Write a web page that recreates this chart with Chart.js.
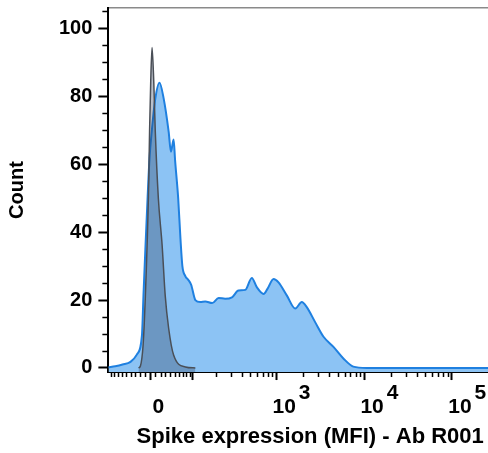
<!DOCTYPE html>
<html>
<head>
<meta charset="utf-8">
<script src="https://cdn.jsdelivr.net/npm/chart.js@4"></script>
<style>
  html, body { margin: 0; padding: 0; background: #fff; overflow: hidden; }
  #wrap { width: 514px; height: 453px; }
</style>
</head>
<body>
<div id="wrap"><canvas id="myChart"></canvas></div>
<script>
// x positions are in biexponential display units: asinh(MFI / 73.8)
const blueX = [-1.10, -0.92, -0.73, -0.52, -0.35, -0.22, -0.18, -0.13, -0.07, -0.02,
  0.04, 0.13, 0.24, 0.35, 0.48, 0.54, 0.61, 0.65, 0.73, 0.79, 0.84, 0.92, 0.99, 1.07,
  1.18, 1.31, 1.44, 1.62, 1.79, 1.96, 2.14, 2.31, 2.49, 2.66, 2.79, 2.97, 3.07, 3.23,
  3.36, 3.58, 3.80, 3.97, 4.10, 4.32, 4.54, 4.80, 5.06, 5.32, 5.67, 9.50];
const blueCount = [0.2, 0.5, 1.0, 1.8, 4.0, 9.6, 21.3, 35, 50.6, 62,
  70, 79.3, 84, 79.3, 69.6, 63.7, 67.3, 61, 50, 38, 30, 27, 26, 24.5,
  20, 19.4, 19.6, 19.1, 20.6, 20.4, 20.8, 22.8, 23.0, 26.5, 23.8, 21.8, 23.3, 26.2,
  25.2, 21.3, 17.5, 19.4, 17.9, 13.5, 9.2, 6.2, 2.8, 0.4, 0, 0];

const grayX = [-0.31, -0.26, -0.19, -0.13, -0.05, -0.02, 0.01, 0.045, 0.09, 0.13,
  0.21, 0.31, 0.39, 0.48, 0.61, 0.92, 1.18];
const grayCount = [0, 0.6, 6.7, 21.3, 50.6, 69.6, 84.2, 94.4, 84.2, 69.6,
  50, 36, 21.3, 11.7, 3.8, 0.3, 0];

const yMajor = [0, 20, 40, 60, 80, 100];
const yMinor = [5, 10, 15, 25, 30, 35, 45, 50, 55, 65, 70, 75, 85, 90, 95, 105];

const xMajorMfi = [0, 100, 1000, 10000, 100000];
const xTickBase = ["0", "", "10", "10", "10"];
const xTickExp = ["", "", "3", "4", "5"];
const xMinorMfi = [-90, -80, -70, -60, -50, -40, -30, -20, -10,
  10, 20, 30, 40, 50, 60, 70, 80, 90,
  200, 300, 400, 500, 600, 700, 800, 900,
  2000, 3000, 4000, 5000, 6000, 7000, 8000, 9000,
  20000, 30000, 40000, 50000, 60000, 70000, 80000, 90000];

const toAxis = (v) => Math.asinh(v / 73.8);
const pts = (xs, ys) => xs.map((x, i) => ({ x, y: ys[i] }));

const FONT = "'Liberation Sans', Arial, sans-serif";

const noEdgePad = (axis) => {
  axis.paddingTop = 0;
  axis.paddingBottom = 0;
  axis.paddingLeft = 0;
  axis.paddingRight = 0;
};

const minorTicks = {
  id: "minorTicks",
  afterDraw(chart) {
    const { ctx, chartArea } = chart;
    const xs = chart.scales.x;
    const ys = chart.scales.y;
    ctx.save();
    ctx.strokeStyle = "#000";
    ctx.lineWidth = 1.5;
    ctx.beginPath();
    yMinor.forEach((v) => {
      const py = Math.round(ys.getPixelForValue(v)) + 0.5;
      if (py < chartArea.top) return;
      ctx.moveTo(chartArea.left - 6, py);
      ctx.lineTo(chartArea.left, py);
    });
    xMinorMfi.forEach((v) => {
      const px = Math.round(xs.getPixelForValue(toAxis(v))) + 0.5;
      ctx.moveTo(px, chartArea.bottom);
      ctx.lineTo(px, chartArea.bottom + 5);
    });
    ctx.stroke();
    ctx.restore();
  },
};

const ctx = document.getElementById("myChart").getContext("2d");

const aChart = new Chart(ctx, {
  type: "line",
  data: {
    datasets: [
      {
        label: "Control",
        data: pts(grayX, grayCount),
        borderColor: "#4a4f57",
        backgroundColor: "rgba(40,60,90,0.32)",
        borderWidth: 1.5,
        fill: "start",
        cubicInterpolationMode: "monotone",
        pointRadius: 0,
        order: 0,
      },
      {
        label: "Ab R001",
        data: pts(blueX, blueCount),
        borderColor: "#1f80e0",
        backgroundColor: "#8cc3f4",
        borderWidth: 2,
        fill: "start",
        cubicInterpolationMode: "monotone",
        pointRadius: 0,
        order: 1,
      },
    ],
  },
  plugins: [minorTicks],
  options: {
    responsive: true,
    maintainAspectRatio: false,
    animation: false,
    layout: { padding: { top: 8, right: 2, bottom: 3, left: 0 } },
    plugins: { legend: { display: false }, tooltip: { enabled: false } },
    scales: {
      x: {
        type: "linear",
        min: -1.10,
        max: 9.48,
        afterBuildTicks: (axis) => {
          axis.ticks = xMajorMfi.map((v) => ({ value: toAxis(v) }));
        },
        afterFit: noEdgePad,
        ticks: {
          autoSkip: false,
          maxRotation: 0,
          padding: 6,
          labelOffset: 8,
          color: "#000",
          font: { family: FONT, size: 21, weight: "bold", lineHeight: 0.68 },
          callback: (value, i) => {
            const base = xTickBase[i];
            if (!base) return "";
            return ["       " + xTickExp[i], base];
          },
        },
        grid: {
          drawOnChartArea: false,
          tickLength: 8,
          tickWidth: 2,
          tickColor: "#000",
        },
        border: { color: "#000", width: 2 },
        title: {
          display: true,
          text: "Spike expression (MFI) - Ab R001",
          color: "#000",
          font: { family: FONT, size: 22, weight: "bold", lineHeight: 1.2 },
          padding: { top: 3, bottom: 0 },
        },
      },
      xTop: {
        type: "linear",
        position: "top",
        min: -1.10,
        max: 9.48,
        afterFit: noEdgePad,
        ticks: { display: false },
        grid: { drawOnChartArea: false, drawTicks: false },
        border: { color: "#8a8a8a", width: 1.5 },
      },
      y: {
        min: -1.2,
        max: 106,
        afterBuildTicks: (axis) => {
          axis.ticks = yMajor.map((v) => ({ value: v }));
        },
        afterFit: noEdgePad,
        ticks: {
          padding: 6,
          color: "#000",
          font: { family: FONT, size: 20, weight: "bold" },
        },
        grid: {
          drawOnChartArea: false,
          tickLength: 10,
          tickWidth: 2,
          tickColor: "#000",
        },
        border: { color: "#000", width: 2 },
        title: {
          display: true,
          text: "Count",
          color: "#000",
          font: { family: FONT, size: 20, weight: "bold", lineHeight: 1.2 },
          padding: { top: 5, bottom: 24 },
        },
      },
    },
  },
});
</script>
</body>
</html>
